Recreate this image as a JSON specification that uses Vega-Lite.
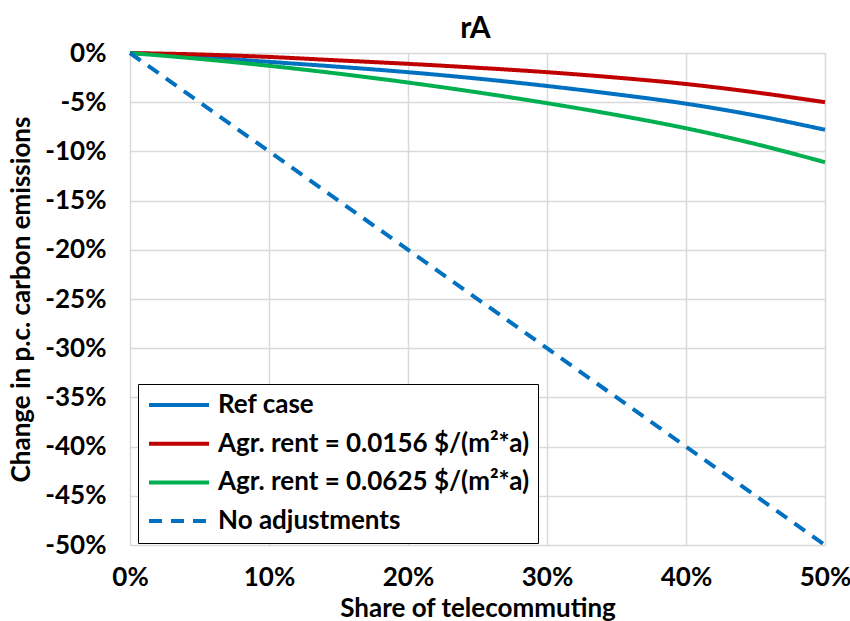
{
  "$schema": "https://vega.github.io/schema/vega-lite/v6.json",
  "autosize": "none",
  "width": 695,
  "height": 492,
  "padding": {"left": 130, "top": 53, "right": 25, "bottom": 76},
  "background": "white",
  "title": {"text": "rA", "fontSize": 30, "font": "Lato", "fontWeight": "bold", "color": "#000000", "anchor": "middle", "offset": -4, "dx": -2},
  "config": {
    "view": {"stroke": null},
    "font": "Lato",
    "title": {"fontSize": 30, "fontWeight": "bold", "color": "#000000"},
    "axis": {"gridColor": "#d9d9d9", "gridWidth": 1.5}
  },
  "data": {
    "values": [
      {"x": 0, "y": 0, "s": "Ref case"},
      {"x": 5, "y": -0.4, "s": "Ref case"},
      {"x": 10, "y": -0.9, "s": "Ref case"},
      {"x": 15, "y": -1.4, "s": "Ref case"},
      {"x": 20, "y": -1.95, "s": "Ref case"},
      {"x": 25, "y": -2.6, "s": "Ref case"},
      {"x": 30, "y": -3.35, "s": "Ref case"},
      {"x": 35, "y": -4.2, "s": "Ref case"},
      {"x": 40, "y": -5.15, "s": "Ref case"},
      {"x": 45, "y": -6.35, "s": "Ref case"},
      {"x": 50, "y": -7.8, "s": "Ref case"},
      {"x": 0, "y": 0, "s": "Agr. rent = 0.0156 $/(m²*a)"},
      {"x": 5, "y": -0.15, "s": "Agr. rent = 0.0156 $/(m²*a)"},
      {"x": 10, "y": -0.4, "s": "Agr. rent = 0.0156 $/(m²*a)"},
      {"x": 15, "y": -0.75, "s": "Agr. rent = 0.0156 $/(m²*a)"},
      {"x": 20, "y": -1.1, "s": "Agr. rent = 0.0156 $/(m²*a)"},
      {"x": 25, "y": -1.5, "s": "Agr. rent = 0.0156 $/(m²*a)"},
      {"x": 30, "y": -1.95, "s": "Agr. rent = 0.0156 $/(m²*a)"},
      {"x": 35, "y": -2.5, "s": "Agr. rent = 0.0156 $/(m²*a)"},
      {"x": 40, "y": -3.15, "s": "Agr. rent = 0.0156 $/(m²*a)"},
      {"x": 45, "y": -4.0, "s": "Agr. rent = 0.0156 $/(m²*a)"},
      {"x": 50, "y": -5.0, "s": "Agr. rent = 0.0156 $/(m²*a)"},
      {"x": 0, "y": 0, "s": "Agr. rent = 0.0625 $/(m²*a)"},
      {"x": 5, "y": -0.6, "s": "Agr. rent = 0.0625 $/(m²*a)"},
      {"x": 10, "y": -1.3, "s": "Agr. rent = 0.0625 $/(m²*a)"},
      {"x": 15, "y": -2.1, "s": "Agr. rent = 0.0625 $/(m²*a)"},
      {"x": 20, "y": -3.0, "s": "Agr. rent = 0.0625 $/(m²*a)"},
      {"x": 25, "y": -4.0, "s": "Agr. rent = 0.0625 $/(m²*a)"},
      {"x": 30, "y": -5.1, "s": "Agr. rent = 0.0625 $/(m²*a)"},
      {"x": 35, "y": -6.3, "s": "Agr. rent = 0.0625 $/(m²*a)"},
      {"x": 40, "y": -7.65, "s": "Agr. rent = 0.0625 $/(m²*a)"},
      {"x": 45, "y": -9.25, "s": "Agr. rent = 0.0625 $/(m²*a)"},
      {"x": 50, "y": -11.1, "s": "Agr. rent = 0.0625 $/(m²*a)"},
      {"x": 0, "y": 0, "s": "No adjustments"},
      {"x": 50, "y": -50, "s": "No adjustments"}
    ]
  },
  "mark": {"type": "line", "strokeWidth": 4, "interpolate": "monotone", "strokeCap": "butt"},
  "encoding": {
    "x": {
      "field": "x", "type": "quantitative",
      "scale": {"domain": [0, 50], "nice": false},
      "axis": {
        "values": [0, 10, 20, 30, 40, 50],
        "labelExpr": "datum.value + '%'",
        "grid": true,
        "domain": false, "ticks": false,
        "labelFontSize": 26, "labelFontWeight": "bold", "labelColor": "#000000", "labelPadding": 19,
        "labelFlush": false,
        "title": "Share of telecommuting", "titleFontSize": 26, "titleFontWeight": "bold", "titleColor": "#000000", "titlePadding": 5
      }
    },
    "y": {
      "field": "y", "type": "quantitative",
      "scale": {"domain": [-50, 0], "nice": false},
      "axis": {
        "values": [-50, -45, -40, -35, -30, -25, -20, -15, -10, -5, 0],
        "labelExpr": "datum.value + '%'",
        "grid": true,
        "domain": false, "ticks": false,
        "labelFontSize": 26, "labelFontWeight": "bold", "labelColor": "#000000", "labelPadding": 24,
        "labelFlush": false,
        "title": "Change in p.c. carbon emissions", "titleFontSize": 26, "titleFontWeight": "bold", "titleColor": "#000000", "titlePadding": 10
      }
    },
    "color": {
      "field": "s", "type": "nominal",
      "scale": {
        "domain": ["Ref case", "Agr. rent = 0.0156 $/(m²*a)", "Agr. rent = 0.0625 $/(m²*a)", "No adjustments"],
        "range": ["#0070c0", "#c00000", "#00b050", "#0070c0"]
      },
      "legend": {
        "title": null,
        "orient": "none",
        "legendX": 8,
        "legendY": 331,
        "fillColor": "white",
        "strokeColor": "#000000",
        "padding": 8,
        "symbolType": "M-1,0H5",
        "symbolSize": 400,
        "symbolStrokeWidth": 4,
        "labelOffset": 46,
        "labelFontSize": 26,
        "labelFontWeight": "bold",
        "labelColor": "#000000",
        "labelLimit": 500,
        "rowPadding": 12.7
      }
    },
    "strokeDash": {
      "field": "s", "type": "nominal",
      "scale": {
        "domain": ["Ref case", "Agr. rent = 0.0156 $/(m²*a)", "Agr. rent = 0.0625 $/(m²*a)", "No adjustments"],
        "range": [[1, 0], [1, 0], [1, 0], [13, 9]]
      },
      "legend": null
    }
  }
}
